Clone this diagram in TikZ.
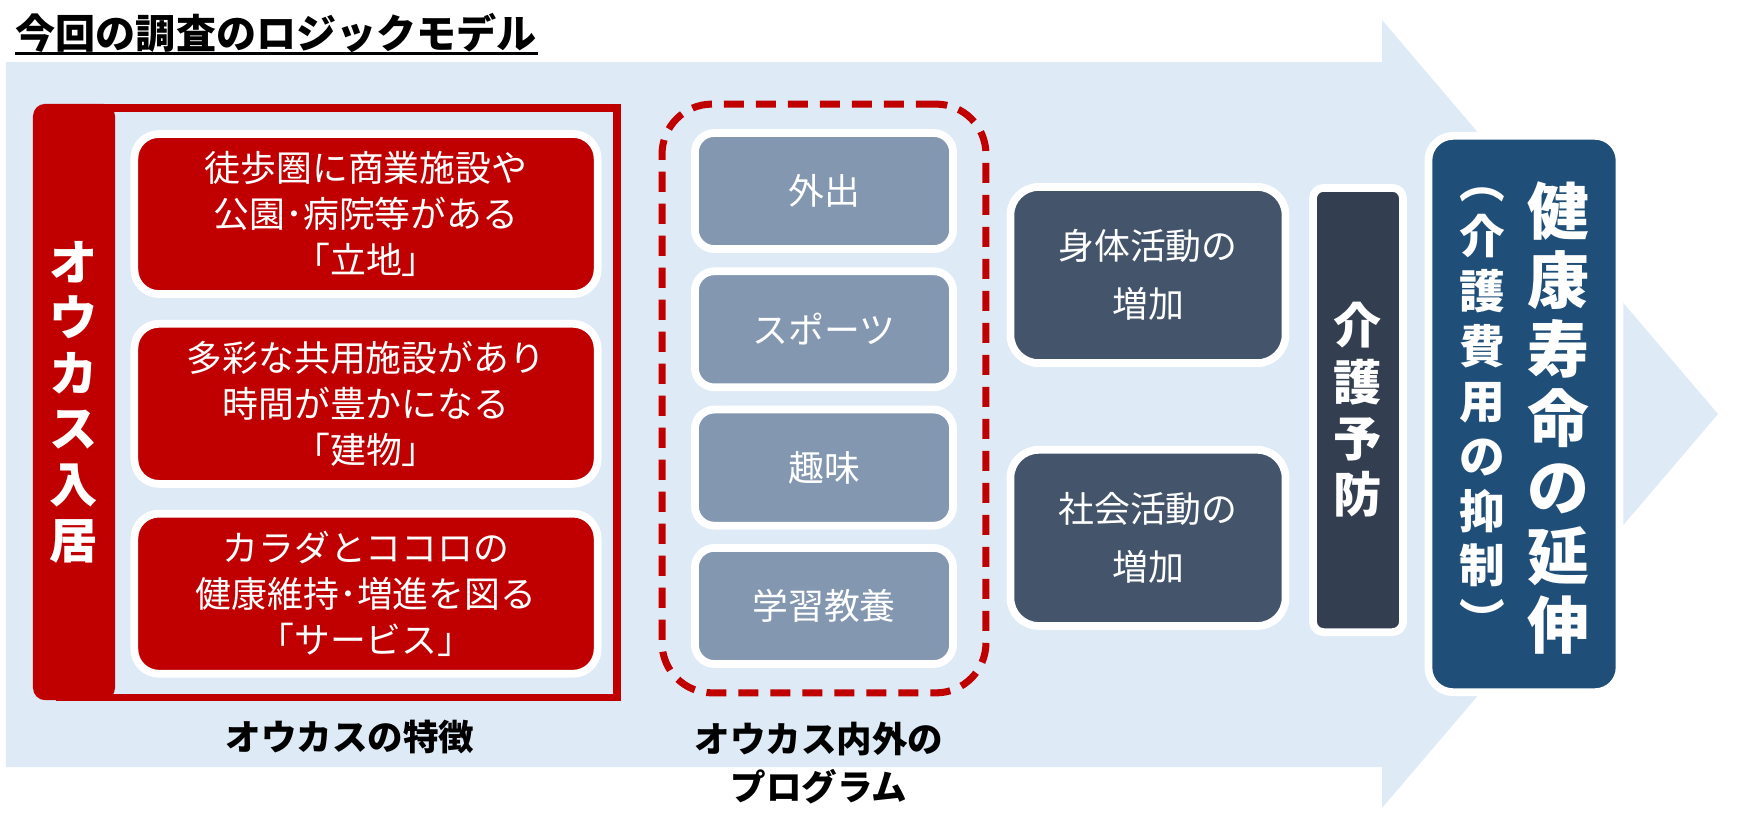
\documentclass[tikz,border=0pt]{standalone}
\usepackage{fontspec}
\setmainfont{Noto Sans CJK JP}
\usetikzlibrary{positioning,fit}
\definecolor{LogicSky}{HTML}{DEEBF7}
\definecolor{LogicRed}{HTML}{C00000}
\definecolor{LogicGrey}{HTML}{8497B0}
\definecolor{LogicSlate}{HTML}{44546A}
\definecolor{LogicInk}{HTML}{333F50}
\definecolor{LogicNavy}{HTML}{1F4E79}

\begin{document}
\begin{tikzpicture}[x=0.01cm,y=-0.01cm]
    \tikzset{box/.style={draw=white,line width=2.2pt,text=white,align=center,inner sep=0pt},
      feat/.style={box,fill=LogicRed,rounded corners=7pt,minimum width=4.63cm,minimum height=1.6cm,font=\fontsize{10.2}{13.1}\selectfont},
      prog/.style={box,fill=LogicGrey,rounded corners=5.5pt,minimum width=2.58cm,minimum height=1.16cm,font=\fontsize{10.2}{13}\selectfont},
      act/.style={box,fill=LogicSlate,rounded corners=8pt,minimum width=2.75cm,minimum height=1.76cm,font=\fontsize{10.2}{16.5}\selectfont},
      lbl/.style={align=center,inner sep=0pt,font=\bfseries\fontsize{10.1}{13.4}\selectfont}}
    \useasboundingbox (0,0) rectangle (1741,817);
    % background arrow
    \fill[LogicSky] (6,62) -- (1382,62) -- (1382,20) -- (1718,414) -- (1382,808) -- (1382,767) -- (6,767) -- cycle;
    \node[anchor=west,inner sep=0pt,font=\bfseries\fontsize{11.4}{12}\selectfont] (title) at (15,33) {今回の調査のロジックモデル};
    \draw[line width=0.75pt] (title.south west) -- (title.south east);
    % features of the residence
    \draw[LogicRed,line width=2pt] (60,108) rectangle (617,697);
    \node[fill=LogicRed,rounded corners=3.5pt,minimum width=0.82cm,minimum height=5.96cm,text=white,align=center,inner sep=0pt,font=\bfseries\fontsize{13.7}{15.8}\selectfont] (move) at (74,402) {オ\\ウ\\カ\\ス\\入\\居};
    \node[feat] (loc) at (366,214) {徒歩圏に商業施設や\\公園･病院等がある\\「立地」};
    \node[feat,below=0.22cm of loc] (bldg) {多彩な共用施設があり\\時間が豊かになる\\「建物」};
    \node[feat,below=0.22cm of bldg] (serv) {カラダとココロの\\健康維持･増進を図る\\「サービス」};
    \node[lbl] (featlbl) at (350,737) {オウカスの特徴};
    % programs
    \node[prog] (out) at (824,191) {外出};
    \node[prog,below=0.145cm of out] (sport) {スポーツ};
    \node[prog,below=0.145cm of sport] (hobby) {趣味};
    \node[prog,below=0.145cm of hobby] (study) {学習教養};
    \node[draw=LogicRed,line width=2pt,dash pattern=on 5.7pt off 3.4pt,rounded corners=0.5cm,inner xsep=0.29cm,inner ysep=0.25cm,fit=(out)(study)] (progs) {};
    \node[lbl] (proglbl) at (819,763) {オウカス内外の\\プログラム};
    % outcomes
    \node[act] (phys) at (1148,275) {身体活動の\\増加};
    \node[act,below=0.79cm of phys] (social) {社会活動の\\増加};
    \node[box,fill=LogicInk,rounded corners=3pt,minimum width=0.9cm,minimum height=4.44cm,font=\bfseries\fontsize{13.7}{16}\selectfont] (care) at (1358,410) {介\\護\\予\\防};
    \node[box,fill=LogicNavy,rounded corners=7pt,minimum width=1.91cm,minimum height=5.56cm] (life) at (1524,414) {};
    \node[text=white,align=center,inner sep=0pt,font=\bfseries\fontsize{17.6}{19.6}\selectfont] (lifemain) at (1558,418) {健\\康\\寿\\命\\の\\延\\伸};
    \node[text=white,align=center,inner sep=0pt,font=\bfseries\fontsize{13}{15.6}\selectfont] (lifesub) at (1482,413) {︵\\介\\護\\費\\用\\の\\抑\\制\\︶};
  \end{tikzpicture}
\end{document}
